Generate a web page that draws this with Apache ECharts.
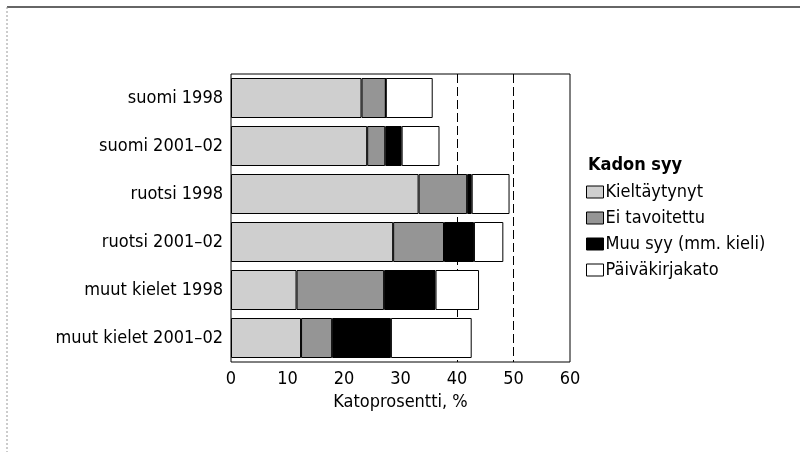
<!DOCTYPE html>
<html>
<head>
<meta charset="utf-8">
<script src="https://cdn.jsdelivr.net/npm/echarts@6/dist/echarts.min.js"></script>
<style>
  html, body { margin: 0; padding: 0; background: #fff; }
  #katoChart { width: 800px; height: 452px; }
</style>
</head>
<body>
<div id="katoChart"></div>
<script>
// ryhmät ylhäältä alas
var categories = ['suomi 1998', 'suomi 2001\u201302', 'ruotsi 1998', 'ruotsi 2001\u201302', 'muut kielet 1998', 'muut kielet 2001\u201302'];
var seriesNames = ['Kieltäytynyt', 'Ei tavoitettu', 'Muu syy (mm. kieli)', 'Päiväkirjakato'];
var kieltaytynyt = [23.1, 24.1, 33.2, 28.7, 11.6, 12.4];
var eiTavoitettu = [4.3, 3.2, 8.6, 9.0, 15.5, 5.5];
var muuSyy = [0, 2.9, 0.8, 5.3, 9.1, 10.4];
var paivakirjakato = [8.3, 6.7, 6.7, 5.2, 7.7, 14.3];
var refLines = [40, 50];
var xTicks = [0, 10, 20, 30, 40, 50, 60];

var font = "'Liberation Sans Narrow', 'DejaVu Sans Condensed', 'Roboto', sans-serif";
var colors = ['#cfcfcf', '#959595', '#000000', '#ffffff'];
var values = [kieltaytynyt, eiTavoitettu, muuSyy, paivakirjakato];

var chart = echarts.init(document.getElementById('katoChart'));

var series = seriesNames.map(function (name, i) {
  return {
    name: name,
    type: 'bar',
    stack: 'kato',
    barWidth: 40,
    z: 3,
    itemStyle: { color: colors[i], borderColor: '#000', borderWidth: 1 },
    data: values[i]
  };
});

// katkoviivat 40 ja 50 kohdalla, palkkien alle
series.push({
  name: 'viivat',
  type: 'line',
  data: [],
  z: 0,
  silent: true,
  markLine: {
    z: 1,
    symbol: 'none',
    silent: true,
    label: { show: false },
    lineStyle: { color: '#000', width: 1, type: [9, 4] },
    data: refLines.map(function (v) { return { xAxis: v }; })
  }
});

chart.setOption({
  animation: false,
  textStyle: { fontFamily: font },
  title: {
    text: 'Kadon syy',
    left: 583,
    top: 151,
    textStyle: { fontFamily: font, fontSize: 18, fontWeight: 'bold', color: '#000' }
  },
  legend: {
    data: seriesNames,
    orient: 'vertical',
    left: 581,
    top: 178,
    itemWidth: 17,
    itemHeight: 12,
    itemGap: 8,
    icon: 'rect',
    textStyle: { fontFamily: font, fontSize: 18, color: '#000', padding: [0, 0, 0, -3] },
    itemStyle: { borderColor: '#000', borderWidth: 1 }
  },
  grid: {
    left: 231,
    top: 74,
    right: 230,
    bottom: 90,
    show: true,
    borderColor: '#000',
    borderWidth: 1
  },
  xAxis: {
    type: 'value',
    min: xTicks[0],
    max: xTicks[xTicks.length - 1],
    interval: 10,
    axisLine: { show: false },
    axisTick: { show: false },
    splitLine: { show: false },
    axisLabel: { color: '#000', fontSize: 18, fontFamily: font, margin: 8 },
    name: 'Katoprosentti, %',
    nameLocation: 'middle',
    nameGap: 31,
    nameTextStyle: { color: '#000', fontSize: 18, fontFamily: font }
  },
  yAxis: {
    type: 'category',
    inverse: true,
    data: categories,
    axisLine: { show: false },
    axisTick: { show: false },
    axisLabel: { color: '#000', fontSize: 18, fontFamily: font, margin: 8 }
  },
  graphic: [
    { type: 'line', shape: { x1: 7, y1: 7, x2: 800, y2: 7 }, style: { stroke: '#333', lineWidth: 1.5 } },
    { type: 'line', shape: { x1: 7, y1: 7, x2: 7, y2: 452 }, style: { stroke: '#999', lineWidth: 1, lineDash: [2, 2] } }
  ],
  series: series
});

window.addEventListener('resize', chart.resize);
</script>
</body>
</html>
